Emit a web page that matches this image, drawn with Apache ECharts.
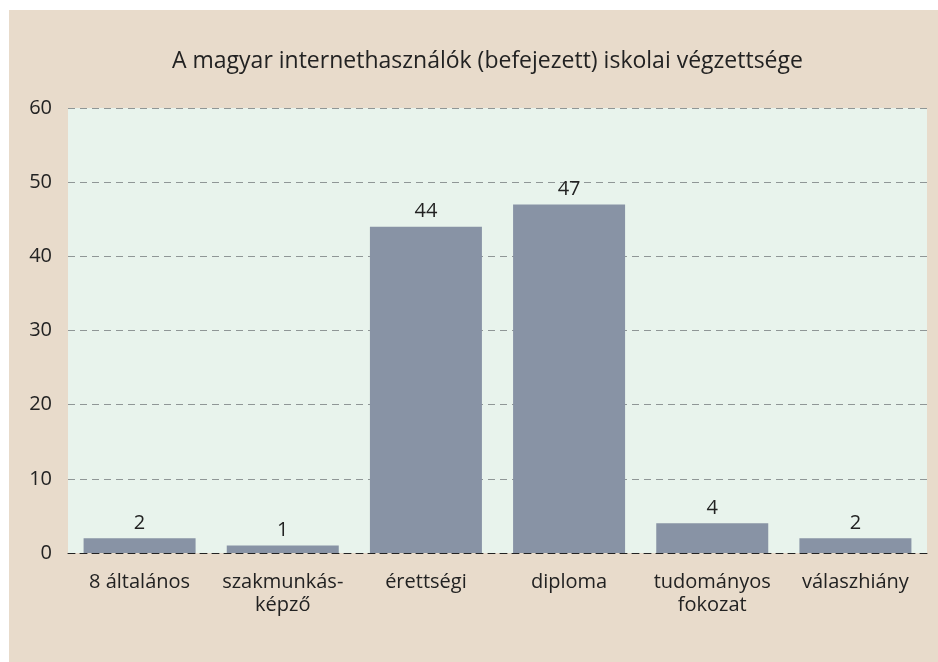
<!DOCTYPE html>
<html>
<head>
<meta charset="utf-8">
<script src="https://cdn.jsdelivr.net/npm/echarts@6/dist/echarts.min.js"></script>
<style>
  html, body { margin: 0; padding: 0; background: #ffffff; }
  #main { position: absolute; left: 9px; top: 10px; width: 929px; height: 652px; }
</style>
</head>
<body>
<div id="main"></div>
<script>
// adatok
const categories = ['8 általános', 'szakmunkás-\nképző', 'érettségi', 'diploma', 'tudományos\nfokozat', 'válaszhiány'];
const values = [2, 1, 44, 47, 4, 2];
const yTicks = [0, 10, 20, 30, 40, 50, 60];

const chart = echarts.init(document.getElementById('main'));
chart.setOption({
    backgroundColor: '#e8dbcb',
    animation: false,
    textStyle: { fontFamily: '"Open Sans", "Noto Sans", sans-serif' },
    title: {
        text: 'A magyar internethasználók (befejezett) iskolai végzettsége',
        left: 158,
        top: 35,
        textStyle: { fontSize: 23, fontWeight: 'normal', color: '#222' }
    },
    grid: {
        left: 59,
        right: 11,
        top: 98,
        bottom: 109,
        show: true,
        backgroundColor: '#e8f3ec',
        borderWidth: 0
    },
    xAxis: {
        type: 'category',
        data: categories,
        axisTick: { show: false },
        axisLine: { lineStyle: { color: '#222', type: [7, 5], width: 1 } },
        axisLabel: { color: '#222', fontSize: 20, margin: 18, lineHeight: 23, interval: 0 }
    },
    yAxis: {
        type: 'value',
        min: yTicks[0],
        max: yTicks[yTicks.length - 1],
        interval: 10,
        axisLine: { show: false },
        axisTick: { show: false },
        axisLabel: { color: '#222', fontSize: 20, margin: 16 },
        splitLine: { lineStyle: { color: '#8f9696', type: [7, 5], width: 1 } }
    },
    series: [{
        type: 'bar',
        data: values,
        barWidth: 112,
        itemStyle: { color: '#8893a5' },
        label: { show: true, position: 'top', distance: 5, color: '#222', fontSize: 20 }
    }]
});
</script>
</body>
</html>
